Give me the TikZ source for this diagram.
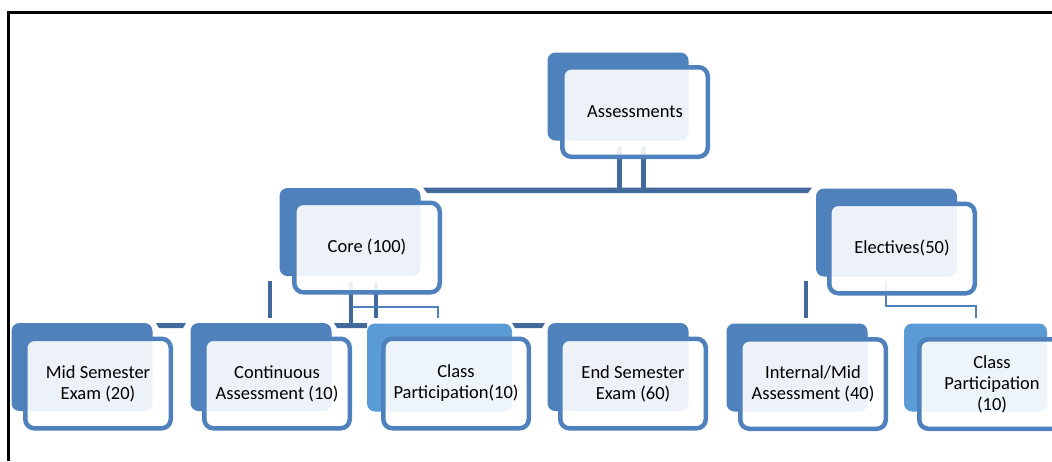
\documentclass[tikz,border=0pt]{standalone}
\usepackage{fontspec}
\setmainfont{Carlito}
\usetikzlibrary{backgrounds}
\definecolor{backblue}{HTML}{4F81BD}
\definecolor{lightback}{HTML}{5B9BD5}
\definecolor{linkblue}{HTML}{41699C}
\definecolor{borderblue}{HTML}{4F81BD}
\tikzset{
  backbox/.style={fill=backblue, rounded corners=8pt, minimum width=141pt, minimum height=88pt, inner sep=0pt},
  lightbackbox/.style={backbox, fill=lightback},
  frontbox/.style={draw=borderblue, line width=4.5pt, fill=white, fill opacity=0.9, text opacity=1, draw opacity=1,
    rounded corners=9pt, minimum width=145.5pt, minimum height=89.5pt, inner sep=0pt, align=center,
    font=\fontsize{18.5}{21}\selectfont},
  link/.style={draw=linkblue, line width=5pt},
  thinlink/.style={draw=borderblue, line width=2pt},
}
\begin{document}
\begin{tikzpicture}[x=1pt,y=-1pt]
\useasboundingbox (0,0) rectangle (1052,461);
\clip (0,0) rectangle (1052,461);
% frame
\draw[line width=3pt] (8.5,461) -- (8.5,12.5) -- (1052,12.5);

% back boxes
\node[backbox] (asmB) at (618,96.5) {};
\node[backbox] (coreB) at (350,232) {};
\node[backbox] (elecB) at (886.5,232.5) {};
\node[backbox] (midB) at (82,367) {};
\node[backbox] (contB) at (261,367) {};
\node[lightbackbox, minimum width=145pt] (cpB) at (439.5,367.5) {};
\node[backbox] (endB) at (618,367) {};
\node[backbox] (intB) at (797,367.5) {};
\node[lightbackbox, minimum width=143pt] (cp2B) at (975.5,367.5) {};

% front boxes
\node[frontbox] (asm) at (635,112) {Assessments};
\node[frontbox] (core) at (367,247.5) {Core (100)};
\node[frontbox] (elec) at (902,248.5) {Electives(50)};
\node[frontbox] (mid) at (98,383.5) {Mid Semester\\Exam (20)};
\node[frontbox] (cont) at (277,383.5) {Continuous\\Assessment (10)};
\node[frontbox] (cp) at (456,383.5) {Class\\Participation(10)};
\node[frontbox] (endx) at (633,383.5) {End Semester\\Exam (60)};
\node[frontbox] (int) at (813,384) {Internal/Mid\\Assessment (40)};
\node[frontbox] (cp2) at (992,384) {Class\\Participation\\(10)};

\begin{scope}[on background layer]
  \fill[white] (0,0) rectangle (1052,461);
  % Assessments to level 1
  \coordinate (a1) at (619,147);
  \coordinate (a2) at (643,147);
  \draw[link] (a1) -- (a1 |- 0,190);
  \draw[link] (a2) -- (a2 |- 0,190);
  \fill[linkblue] (423,187.5) -- (812,187.5) -- (808,193) -- (427,193) -- cycle;
  % Core to level 2
  \draw[link, line width=4.5pt] (351,282) -- (351,325);
  \draw[link, line width=4.5pt] (376,282) -- (376,318);
  \draw[link, line width=4.5pt] (270,281) -- (270,318);
  \draw[thinlink] (352,307) -- (438,307) -- (438,318);
  \fill[linkblue] (156,323) -- (186,323) -- (183,328) -- (159,328) -- cycle;
  \fill[linkblue] (334,323) -- (367,323) -- (367,328) -- (337,328) -- cycle;
  \fill[linkblue] (512,323) -- (545,323) -- (542,328) -- (515,328) -- cycle;
  % Electives to level 2
  \draw[link, line width=4.5pt] (806,281) -- (806,318);
  \draw[thinlink] (886,282) -- (886,306) -- (976,306) -- (976,318);
\end{scope}
\end{tikzpicture}
\end{document}
